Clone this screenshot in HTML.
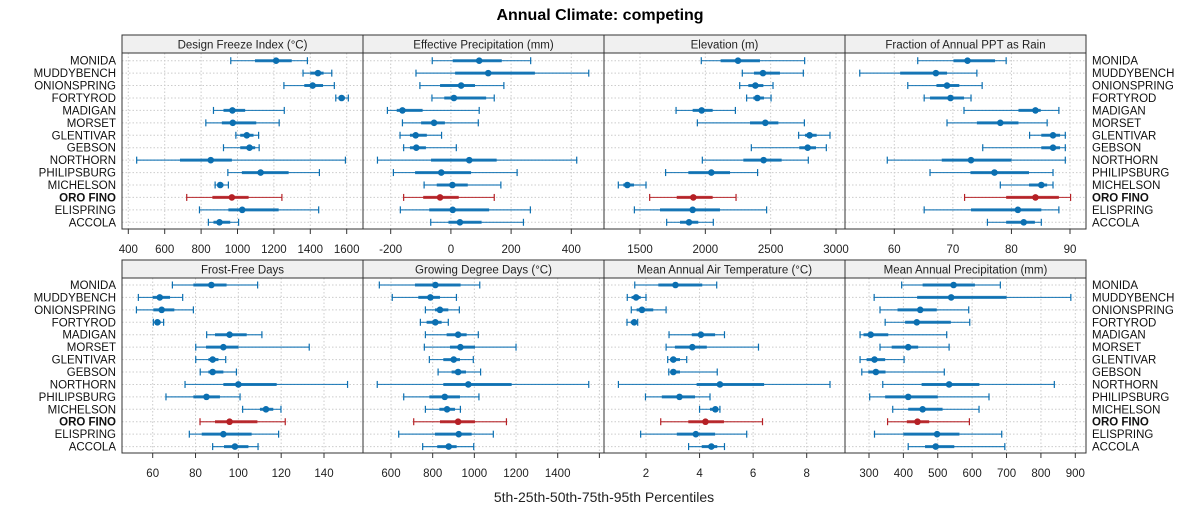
<!DOCTYPE html>
<html><head><meta charset="utf-8"><style>
body{margin:0;background:#fff;}
svg{display:block;font-family:"Liberation Sans",sans-serif;}
</style></head><body>
<svg id="chart" width="1200" height="525" viewBox="0 0 1200 525" xmlns="http://www.w3.org/2000/svg">
<text x="600" y="20" text-anchor="middle" font-size="16" font-weight="bold">Annual Climate: competing</text>
<text x="604" y="502" text-anchor="middle" font-size="14" fill="#222">5th-25th-50th-75th-95th Percentiles</text>
<g id="panels"></g>
</svg>
<script>
const sites = ["MONIDA","MUDDYBENCH","ONIONSPRING","FORTYROD","MADIGAN","MORSET","GLENTIVAR","GEBSON","NORTHORN","PHILIPSBURG","MICHELSON","ORO FINO","ELISPRING","ACCOLA"];
const panelTitles = ["Design Freeze Index (°C)","Effective Precipitation (mm)","Elevation (m)","Fraction of Annual PPT as Rain","Frost-Free Days","Growing Degree Days (°C)","Mean Annual Air Temperature (°C)","Mean Annual Precipitation (mm)"];
// each row: [p5, p25, p50, p75, p95]
const freezeIndex = [[963,1096,1212,1298,1384],[1360,1400,1442,1473,1518],[1255,1367,1413,1470,1532],[1540,1555,1572,1590,1609],[868,923,972,1042,1257],[826,914,974,1103,1229],[991,1015,1051,1088,1116],[923,1015,1066,1097,1119],[446,684,853,969,1593],[947,1024,1127,1281,1450],[877,890,905,923,950],[721,862,969,1061,1244],[791,950,1026,1226,1446],[840,868,901,960,1006]];
const effPrecip = [[-62,6,94,169,265],[-116,14,124,279,458],[-103,-36,34,80,176],[-63,-22,10,117,144],[-211,-180,-161,-94,94],[-161,-99,-56,-20,91],[-169,-136,-117,-80,-31],[-157,-136,-115,-83,18],[-244,-66,61,152,418],[-191,-119,-32,67,220],[-89,-47,5,56,166],[-157,-92,-36,26,144],[-168,-72,6,127,264],[-67,-8,30,102,241]];
const elevation = [[1969,2117,2250,2418,2760],[2283,2372,2441,2571,2750],[2263,2329,2383,2444,2518],[2316,2367,2398,2449,2503],[1776,1903,1972,2056,2230],[1939,2342,2459,2559,2758],[2714,2763,2798,2852,2954],[2352,2719,2783,2847,2926],[1977,2291,2446,2584,2788],[1696,1870,2046,2189,2400],[1334,1372,1403,1454,1546],[1574,1781,1908,2056,2235],[1457,1653,1903,2112,2469],[1704,1806,1875,1946,2061]];
const fracRain = [[64.0,70.1,72.5,77.2,79.1],[54.1,61.0,67.1,69.0,74.1],[62.3,67.2,69.0,71.1,75.0],[65.1,66.1,69.6,71.9,73.1],[71.9,81.2,84.1,85.0,88.1],[69.0,74.1,78.1,81.2,86.1],[83.1,85.1,87.1,88.3,89.2],[75.1,85.1,87.1,88.3,89.2],[58.8,68.1,73.1,80.0,89.2],[66.1,73.0,77.1,83.0,87.1],[78.1,83.0,85.1,86.1,87.1],[72.0,79.1,84.1,88.1,90.1],[65.1,73.1,81.1,85.1,88.1],[75.9,79.1,82.1,84.0,85.1]];
const frostFree = [[69.2,79,87.4,94.5,109],[53.3,60,63.3,68.1,74],[52.4,60.3,64.2,70.1,79],[60.3,61.1,62.2,63.7,65.1],[85.2,89.1,95.9,103.9,111],[80.1,84.9,93,100,133.1],[80.1,86,88,90.7,94.1],[82.2,86,88,93,99.1],[75.1,93,100,117.9,151],[66.2,79,85.1,91.4,100.8],[102,110.1,112.9,116.3,119.9],[82.1,89.1,95.9,108.9,121.9],[77.1,82.9,93,106.2,118.8],[88,93.3,98.4,104.7,109.2]];
const growDD = [[544,715,813,934,1026],[606,731,789,835,914],[765,811,835,875,928],[741,771,813,843,875],[765,867,922,963,1019],[760,883,933,1003,1200],[784,851,901,931,995],[826,891,922,960,1030],[534,851,971,1179,1549],[661,784,858,931,1022],[765,832,869,907,933],[709,835,922,1003,1154],[637,811,925,987,1091],[752,822,877,915,997]];
const airTemp = [[1.58,2.46,3.10,4.10,4.64],[1.30,1.46,1.63,1.80,2.0],[1.45,1.65,1.85,2.27,2.75],[1.29,1.43,1.56,1.63,1.69],[2.86,3.71,4.05,4.58,4.93],[2.75,3.08,3.73,4.27,6.20],[2.81,2.90,3.02,3.27,3.52],[2.85,2.92,3.02,3.27,4.66],[0.97,3.89,4.76,6.41,8.87],[1.98,2.59,3.25,3.83,4.39],[4.00,4.39,4.59,4.70,4.76],[2.55,3.58,4.22,4.91,6.35],[1.80,3.15,3.86,4.58,5.76],[3.59,4.08,4.44,4.66,4.93]];
const annPrecip = [[395,456,546,608,682],[315,440,539,700,887],[332,383,449,497,590],[347,405,439,538,593],[274,284,305,356,526],[332,366,414,443,533],[274,293,316,347,402],[279,298,320,348,519],[340,453,533,621,839],[302,347,414,500,649],[369,414,456,514,620],[354,410,441,475,592],[316,400,498,563,686],[414,463,494,548,695]];
const ticksFreeze = [400,600,800,1000,1200,1400,1600];
const ticksEff = [-200,0,200,400];
const ticksElev = [1500,2000,2500,3000];
const ticksFrac = [60,70,80,90];
const ticksFrost = [60,80,100,120,140];
const ticksGDD = [600,800,1000,1200,1400,1600];
const ticksTemp = [2,4,6,8];
const ticksPrecip = [300,400,500,600,700,800,900];

const NS="http://www.w3.org/2000/svg";
const root=document.getElementById('panels');
function mk(tag,attrs,parent){const e=document.createElementNS(NS,tag);for(const k in attrs)e.setAttribute(k,attrs[k]);(parent||root).appendChild(e);return e;}
const colX=[[122,363],[363,604],[604,845],[845,1086]];
const rowsY=[{ht:35,hb:53,pb:229,y0:60.7},{ht:260,hb:278,pb:453,y0:285}];
const step=12.43;
const panels=[
 {data:freezeIndex,ticks:ticksFreeze,v0:400,p0:128.3,v1:1600,p1:346.7,name:'design-freeze-index'},
 {data:effPrecip,ticks:ticksEff,v0:-200,p0:390.7,v1:400,p1:571.3,name:'effective-precipitation'},
 {data:elevation,ticks:ticksElev,v0:1500,p0:640,v1:3000,p1:836,name:'elevation'},
 {data:fracRain,ticks:ticksFrac,v0:60,p0:894.3,v1:90,p1:1070,name:'fraction-rain'},
 {data:frostFree,ticks:ticksFrost,v0:60,p0:152.7,v1:140,p1:324,name:'frost-free-days'},
 {data:growDD,ticks:ticksGDD,v0:600,p0:391,v1:1400,p1:557.7,name:'growing-degree-days'},
 {data:airTemp,ticks:ticksTemp,v0:2,p0:646,v1:8,p1:806.7,name:'mean-air-temperature'},
 {data:annPrecip,ticks:ticksPrecip,v0:300,p0:869,v1:900,p1:1075.3,name:'mean-annual-precipitation'}
];
panels.forEach((p,i)=>{
  const r=rowsY[Math.floor(i/4)], c=colX[i%4];
  const sx=v=>p.p0+(v-p.v0)*(p.p1-p.p0)/(p.v1-p.v0);
  const yOf=j=>r.y0+j*step;
  const g=mk('g',{});
  
  
  // grid
  p.ticks.forEach(t=>{const x=sx(t); if(x>c[0]&&x<c[1]) mk('line',{x1:x,x2:x,y1:r.hb,y2:r.pb,stroke:'#ccc','stroke-dasharray':'1.5,2','stroke-width':1},g);});
  sites.forEach((s,j)=>{mk('line',{x1:c[0],x2:c[1],y1:yOf(j),y2:yOf(j),stroke:'#ccc','stroke-dasharray':'1.5,2','stroke-width':1},g);});
  // header
  const hd=mk('rect',{x:c[0],y:r.ht,width:c[1]-c[0],height:r.hb-r.ht,fill:'#f0f0f0',stroke:'#333','stroke-width':1},g);
  
  
  const ht=mk('text',{x:(c[0]+c[1])/2,y:r.hb-4.5,'text-anchor':'middle','font-size':11.5,fill:'#222'},g);
  ht.textContent=panelTitles[i];
  
  
  mk('rect',{x:c[0],y:r.hb,width:c[1]-c[0],height:r.pb-r.hb,fill:'none',stroke:'#333','stroke-width':1},g);
  // ticks
  p.ticks.forEach(t=>{const x=sx(t); if(x<c[0]||x>c[1]) return;
    mk('line',{x1:x,x2:x,y1:r.pb,y2:r.pb+5,stroke:'#333'},g);
    if(x<c[1]-8){const tl=mk('text',{x:x,y:r.pb+24,'text-anchor':'middle','font-size':11.5,fill:'#222'},g);tl.textContent=t;
    
    }
  });
  // marks
  p.data.forEach((d,j)=>{
    const y=yOf(j), col=sites[j]==='ORO FINO'?'#b52025':'#0b6fb1';
    const mg=mk('g',{},g);
    
    
    mk('line',{x1:sx(d[0]),x2:sx(d[4]),y1:y,y2:y,stroke:col,'stroke-width':1.2,'stroke-opacity':0.85},mg);
    mk('line',{x1:sx(d[0]),x2:sx(d[0]),y1:y-3.5,y2:y+3.5,stroke:col,'stroke-width':1.2},mg);
    mk('line',{x1:sx(d[4]),x2:sx(d[4]),y1:y-3.5,y2:y+3.5,stroke:col,'stroke-width':1.2},mg);
    mk('line',{x1:sx(d[1]),x2:sx(d[3]),y1:y,y2:y,stroke:col,'stroke-width':3,'stroke-opacity':0.9},mg);
    mk('circle',{cx:sx(d[2]),cy:y,r:3.3,fill:col},mg);
  });
  // site labels
  if(i%4===0||i%4===3){
    sites.forEach((s,j)=>{
      const left=i%4===0;
      const t=mk('text',{x:left?116:1092,y:yOf(j)+4,'text-anchor':left?'end':'start','font-size':11.5,fill:'#111','font-weight':s==='ORO FINO'?'bold':'normal'},g);
      t.textContent=s;
      
      
    });
  }
});
</script>
</body></html>
